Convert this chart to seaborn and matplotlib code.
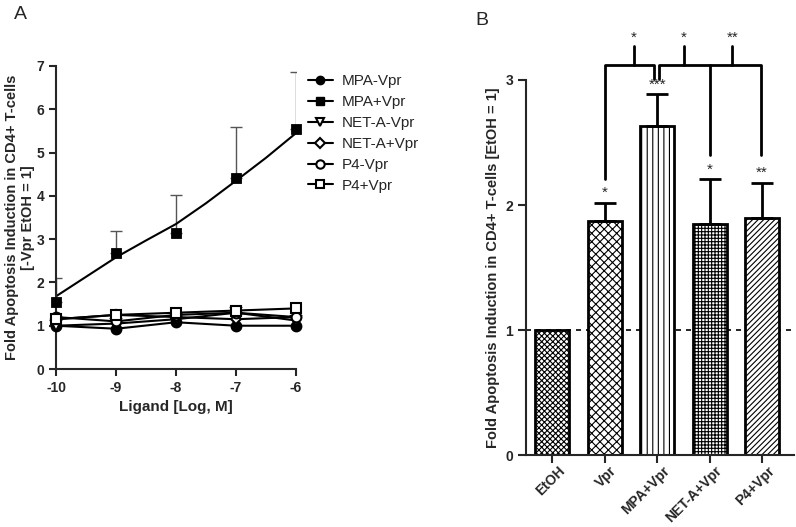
import pandas as pd
import seaborn as sns
import matplotlib.pyplot as plt
import matplotlib.transforms as mtransforms
from matplotlib.lines import Line2D

sns.set_style("ticks")
plt.rcParams["font.family"] = ["Liberation Sans", "DejaVu Sans"]
plt.rcParams["axes.unicode_minus"] = False
plt.rcParams["hatch.linewidth"] = 0.8

# panel A: dose response
log_conc = [-10, -9, -8, -7, -6]
mpa_minus = [1.00, 0.93, 1.08, 1.00, 1.00]
mpa_plus = [1.55, 2.68, 3.14, 4.41, 5.54]
mpa_plus_err = [0.55, 0.50, 0.89, 1.19, 1.32]
neta_minus = [1.00, 1.05, 1.15, 1.30, 1.12]
neta_plus = [1.15, 1.25, 1.20, 1.15, 1.20]
p4_minus = [1.20, 1.10, 1.25, 1.30, 1.20]
p4_plus = [1.15, 1.25, 1.30, 1.35, 1.40]
p4_plus_err = [0.05, 0.12, 0.08, 0.05, 0.12]
fit_x = [-10, -9.5, -9, -8.5, -8, -7.5, -7, -6.5, -6]
fit_y = [1.68, 2.13, 2.58, 2.97, 3.35, 3.83, 4.35, 4.88, 5.45]

# panel B: bars
groups = ["EtOH", "Vpr", "MPA+Vpr", "NET-A+Vpr", "P4+Vpr"]
fold = [1.00, 1.87, 2.63, 1.85, 1.90]
fold_err = [0.00, 0.15, 0.26, 0.36, 0.28]
bar_stars = ["", "*", "***", "*", "**"]
hatches = ["xxxxxx", "xxxx", "|||", "+++++", "//////"]

fig = plt.figure(figsize=(7.96, 5.27), dpi=100)
ax1 = fig.add_axes([0.0704, 0.2998, 0.3015, 0.575])
ax2 = fig.add_axes([0.661, 0.1366, 0.336, 0.7116])

series = [
    ("MPA-Vpr", mpa_minus, "o", "black"),
    ("NET-A-Vpr", neta_minus, "v", "white"),
    ("NET-A+Vpr", neta_plus, "D", "white"),
    ("P4-Vpr", p4_minus, "o", "white"),
    ("P4+Vpr", p4_plus, "s", "white"),
]
for name, vals, mk, fc in series:
    sns.lineplot(x=log_conc, y=vals, ax=ax1, color="black", lw=1.5,
                 marker=mk, markersize=7 if mk != "D" else 5.5,
                 markerfacecolor=fc, markeredgecolor="black",
                 markeredgewidth=1.5, clip_on=False, zorder=3)
ax1.errorbar(log_conc, p4_plus, yerr=[[0] * 5, p4_plus_err], fmt="none",
             ecolor="#555555", elinewidth=1, capsize=3, zorder=2)
ax1.errorbar(log_conc, mpa_plus, yerr=[[0] * 5, mpa_plus_err], fmt="none",
             ecolor="#555555", elinewidth=1, capsize=4, zorder=2)
sns.lineplot(x=fit_x, y=fit_y, ax=ax1, color="black", lw=1.5)
sns.scatterplot(x=log_conc, y=mpa_plus, ax=ax1, marker="s", color="black",
                s=55, edgecolor="black", clip_on=False, zorder=4)

ax1.set_xlim(-10, -6)
ax1.set_ylim(0, 7)
ax1.set_xticks(log_conc)
ax1.set_yticks(range(8))
ax1.tick_params(width=1.5, length=5, labelsize=10)
for lab in ax1.get_xticklabels() + ax1.get_yticklabels():
    lab.set_fontweight("bold")
for sp in ["left", "bottom"]:
    ax1.spines[sp].set_linewidth(1.5)
sns.despine(ax=ax1)
ax1.set_xlabel("Ligand [Log, M]", fontsize=11, fontweight="bold")
ax1.set_ylabel("Fold Apoptosis Induction in CD4+ T-cells\n[-Vpr EtOH = 1]",
               fontsize=10.5, fontweight="bold", labelpad=1)

handles = [
    Line2D([], [], color="black", lw=1.5, marker="o", markersize=6),
    Line2D([], [], color="black", lw=1.5, marker="s", markersize=6),
    Line2D([], [], color="black", lw=1.5, marker="v", markersize=6,
           markerfacecolor="white", markeredgewidth=1.5),
    Line2D([], [], color="black", lw=1.5, marker="D", markersize=5,
           markerfacecolor="white", markeredgewidth=1.5),
    Line2D([], [], color="black", lw=1.5, marker="o", markersize=6,
           markerfacecolor="white", markeredgewidth=1.5),
    Line2D([], [], color="black", lw=1.5, marker="s", markersize=6,
           markerfacecolor="white", markeredgewidth=1.5),
]
labels = ["MPA-Vpr", "MPA+Vpr", "NET-A-Vpr", "NET-A+Vpr", "P4-Vpr", "P4+Vpr"]
fig.legend(handles, labels, loc="upper left", bbox_to_anchor=(0.37, 0.885),
           frameon=False, fontsize=11, handlelength=1.6, handletextpad=0.6,
           labelspacing=0.45)

# panel B
bdf = pd.DataFrame({"group": groups, "fold": fold})
sns.barplot(data=bdf, x="group", y="fold", ax=ax2, color="white",
            edgecolor="black", linewidth=2, width=0.65, errorbar=None)
for patch, h in zip(ax2.patches, hatches):
    patch.set_hatch(h)
ax2.errorbar(range(1, 5), fold[1:], yerr=[[0] * 4, fold_err[1:]], fmt="none",
             ecolor="black", elinewidth=2, capsize=8, capthick=2, zorder=1)
ax2.axhline(1, color="black", lw=1.2, ls=(0, (3, 3)), zorder=0)
for i, st in enumerate(bar_stars):
    if st:
        ax2.text(i, fold[i] + fold_err[i] + 0.075, st, ha="center",
                 va="center", fontsize=11)

# significance brackets
bk = dict(color="black", lw=2, clip_on=False)
ax2.plot([1, 1, 1.94, 1.94], [2.21, 3.12, 3.12, 3.01], **bk)
ax2.plot([1.55, 1.55], [3.12, 3.27], **bk)
ax2.plot([2.04, 2.04, 3.98, 3.98], [3.01, 3.12, 3.12, 2.40], **bk)
ax2.plot([3.0, 3.0], [3.12, 2.40], **bk)
ax2.plot([2.51, 2.51], [3.12, 3.27], **bk)
ax2.plot([3.43, 3.43], [3.12, 3.27], **bk)
for xs, st in [(1.55, "*"), (2.51, "*"), (3.43, "**")]:
    ax2.text(xs, 3.34, st, ha="center", va="center", fontsize=11)

ax2.set_xlim(-0.5, 4.6)
ax2.set_ylim(0, 3)
ax2.set_yticks([0, 1, 2, 3])
ax2.tick_params(width=1.5, length=6, labelsize=10)
ax2.tick_params(axis="x", pad=2)
ax2.set_xticks(range(5))
ax2.set_xticklabels(groups, rotation=45, ha="right", rotation_mode="anchor",
                    fontsize=10)
shift = mtransforms.ScaledTranslation(5 / 100, 2 / 100, fig.dpi_scale_trans)
for lab in ax2.get_xticklabels():
    lab.set_transform(lab.get_transform() + shift)
for lab in ax2.get_xticklabels() + ax2.get_yticklabels():
    lab.set_fontweight("bold")
for sp in ["left", "bottom"]:
    ax2.spines[sp].set_linewidth(1.5)
sns.despine(ax=ax2)
ax2.set_xlabel("")
ax2.set_ylabel("Fold Apoptosis Induction in CD4+ T-cells [EtOH = 1]",
               fontsize=10.5, fontweight="bold")

fig.text(0.017, 0.973, "A", fontsize=14, va="center")
fig.text(0.597, 0.962, "B", fontsize=14, va="center")

fig.savefig("out.png", dpi=100)
